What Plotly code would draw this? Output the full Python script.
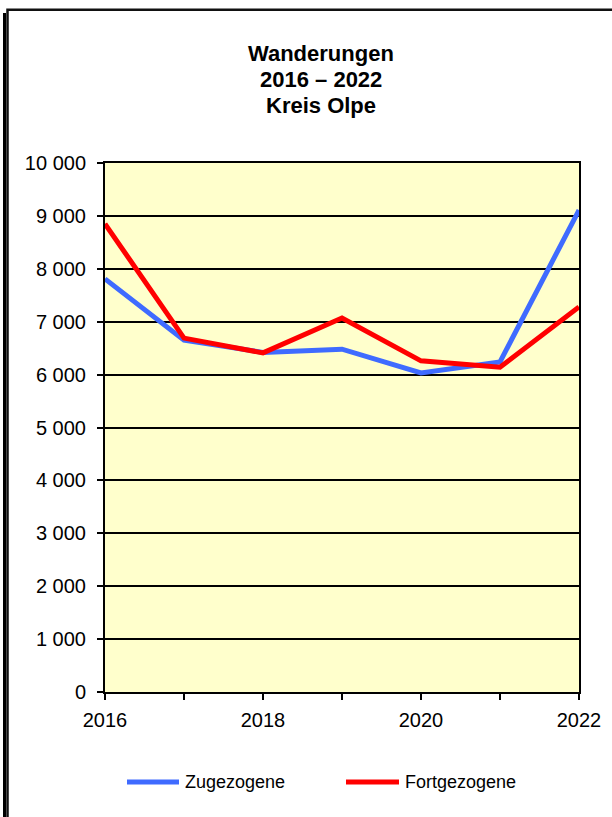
import plotly.graph_objects as go

years = [2016, 2017, 2018, 2019, 2020, 2021, 2022]
zugezogene = [7810, 6650, 6420, 6480, 6030, 6240, 9110]
fortgezogene = [8850, 6690, 6410, 7070, 6260, 6140, 7280]

y_tickvals = [0, 1000, 2000, 3000, 4000, 5000, 6000, 7000, 8000, 9000, 10000]
y_ticktext = ["0", "1 000", "2 000", "3 000", "4 000", "5 000", "6 000", "7 000", "8 000", "9 000", "10 000"]
x_ticktext = ["2016", "", "2018", "", "2020", "", "2022"]

title_lines = ["Wanderungen", "2016 – 2022", "Kreis Olpe"]
series_names = ["Zugezogene", "Fortgezogene"]
colors = ["#3F6BFF", "#FF0000"]

W, H = 612, 817
L, R, T, B = 105, 579, 163, 692

def px(x):
    return (x - L) / (R - L)

def py(y):
    return (B - y) / (B - T)

FONT = "Liberation Sans, Arial, sans-serif"

fig = go.Figure()
for name, vals, col in zip(series_names, [zugezogene, fortgezogene], colors):
    fig.add_trace(go.Scatter(x=years, y=vals, mode="lines", name=name,
                             line=dict(color=col, width=5), showlegend=False))

shapes = []
# outer frame
shapes.append(dict(type="rect", xref="paper", yref="paper",
                   x0=px(7.5), x1=px(640), y0=py(9.7), y1=py(840),
                   line=dict(color="#111111", width=2.5), layer="above"))
shapes.append(dict(type="line", xref="paper", yref="paper",
                   x0=px(4.5), x1=px(4.5), y0=py(13), y1=py(840),
                   line=dict(color="#000000", width=3), layer="above"))

annotations = []
for i, t in enumerate(title_lines):
    annotations.append(dict(text="<b>%s</b>" % t, xref="paper", yref="paper",
                            x=px(321), y=py(53 + 26 * i), showarrow=False,
                            xanchor="center", yanchor="middle",
                            font=dict(family=FONT, size=22, color="black")))

# manual legend
leg_y = 782
for (x0, x1, tx), name, col in zip([(127, 179, 183), (346, 399, 403)], series_names, colors):
    shapes.append(dict(type="line", xref="paper", yref="paper",
                       x0=px(x0), x1=px(x1), y0=py(leg_y), y1=py(leg_y),
                       line=dict(color=col, width=5)))
    annotations.append(dict(text=name, xref="paper", yref="paper",
                            x=px(tx), y=py(leg_y), showarrow=False,
                            xanchor="left", yanchor="middle",
                            font=dict(family=FONT, size=18, color="black")))

fig.update_layout(
    width=W, height=H,
    margin=dict(l=L, r=W - R, t=T, b=H - B, pad=0),
    paper_bgcolor="white", plot_bgcolor="#FFFFCC",
    showlegend=False,
    shapes=shapes, annotations=annotations,
    font=dict(family=FONT, size=18, color="black"),
)
fig.update_xaxes(range=[2016, 2022], tickmode="array", tickvals=years, ticktext=x_ticktext,
                 showgrid=False, zeroline=False, showline=True, linecolor="black", linewidth=2,
                 mirror=True, ticks="outside", ticklen=6, tickwidth=2, tickcolor="black",
                 ticklabelstandoff=3,
                 tickfont=dict(family=FONT, size=20, color="black"))
fig.update_yaxes(range=[0, 10000], tickmode="array", tickvals=y_tickvals, ticktext=y_ticktext,
                 showgrid=True, gridcolor="black", gridwidth=2, zeroline=False,
                 showline=True, linecolor="black", linewidth=2, mirror=True,
                 ticks="outside", ticklen=6, tickwidth=2, tickcolor="black",
                 ticklabelstandoff=7,
                 tickfont=dict(family=FONT, size=20, color="black"))

fig.write_html("out.html", config={"displayModeBar": False},
               post_script="document.body.style.margin='0';")
